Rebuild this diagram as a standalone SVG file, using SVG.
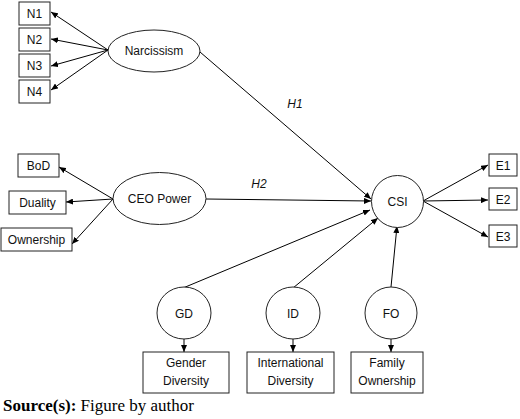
<svg xmlns="http://www.w3.org/2000/svg" width="520" height="419" viewBox="0 0 520 419">
<defs>
<marker id="arr" markerUnits="userSpaceOnUse" markerWidth="8" markerHeight="6" refX="7" refY="3" orient="auto">
<path d="M0,0 L7,3 L0,6 z" fill="#000"/>
</marker>
<style>
.box{fill:#fff;stroke:#222;stroke-width:1}
.el{fill:#fff;stroke:#222;stroke-width:1}
.t{font-family:"Liberation Sans",Arial,sans-serif;font-size:12px;fill:#111;text-anchor:middle}
.h{font-family:"Liberation Sans",Arial,sans-serif;font-size:12px;font-style:italic;fill:#111;text-anchor:middle}
.c{stroke:#000;stroke-width:1;fill:none;marker-end:url(#arr)}
</style>
</defs>
<rect width="520" height="419" fill="#fff"/>
<g id="connectors">
<line class="c" x1="108" y1="50" x2="51" y2="12"/>
<line class="c" x1="108" y1="50" x2="51" y2="39"/>
<line class="c" x1="108" y1="50" x2="51" y2="66"/>
<line class="c" x1="108" y1="50" x2="51" y2="90"/>
<line class="c" x1="113" y1="199" x2="59" y2="167"/>
<line class="c" x1="113" y1="199" x2="66" y2="202"/>
<line class="c" x1="113" y1="199" x2="72" y2="244"/>
<line class="c" x1="200" y1="52" x2="371" y2="199"/>
<line class="c" x1="206" y1="199" x2="371" y2="201"/>
<line class="c" x1="183" y1="288" x2="370" y2="210"/>
<line class="c" x1="293" y1="288" x2="378" y2="218"/>
<line class="c" x1="391" y1="287" x2="397" y2="226"/>
<line class="c" x1="423" y1="201" x2="488" y2="165"/>
<line class="c" x1="423" y1="201" x2="488" y2="200"/>
<line class="c" x1="423" y1="201" x2="488" y2="237"/>
<line class="c" x1="184" y1="339" x2="184" y2="352"/>
<line class="c" x1="293" y1="339" x2="293" y2="352"/>
<line class="c" x1="391" y1="339" x2="391" y2="352"/>
</g>
<text class="h" x="295" y="108">H1</text>
<text class="h" x="259" y="188">H2</text>
<g id="N1"><rect class="box" x="19" y="2" width="31" height="23"/><text class="t" x="34.5" y="18">N1</text></g>
<g id="N2"><rect class="box" x="19" y="28" width="31" height="23"/><text class="t" x="34.5" y="44">N2</text></g>
<g id="N3"><rect class="box" x="19" y="54" width="31" height="23"/><text class="t" x="34.5" y="70">N3</text></g>
<g id="N4"><rect class="box" x="19" y="80" width="31" height="23"/><text class="t" x="34.5" y="96">N4</text></g>
<g id="Narcissism"><ellipse class="el" cx="154" cy="51" rx="46" ry="21"/><text class="t" x="154" y="55">Narcissism</text></g>
<g id="BoD"><rect class="box" x="18" y="154" width="41" height="23"/><text class="t" x="38.5" y="170">BoD</text></g>
<g id="Duality"><rect class="box" x="9" y="191" width="57" height="23"/><text class="t" x="37.5" y="207">Duality</text></g>
<g id="Ownership"><rect class="box" x="1" y="228" width="71" height="23"/><text class="t" x="36.5" y="244">Ownership</text></g>
<g id="CEOPower"><ellipse class="el" cx="159.5" cy="198.5" rx="46.5" ry="26"/><text class="t" x="159.5" y="203">CEO Power</text></g>
<g id="CSI"><ellipse class="el" cx="397.5" cy="201.5" rx="26" ry="26"/><text class="t" x="397.5" y="206">CSI</text></g>
<g id="E1"><rect class="box" x="489" y="154" width="28" height="22"/><text class="t" x="503" y="170">E1</text></g>
<g id="E2"><rect class="box" x="489" y="188" width="28" height="22"/><text class="t" x="503" y="204">E2</text></g>
<g id="E3"><rect class="box" x="489" y="225" width="28" height="22"/><text class="t" x="503" y="241">E3</text></g>
<g id="GD"><ellipse class="el" cx="184" cy="313" rx="27" ry="26"/><text class="t" x="184" y="318">GD</text></g>
<g id="ID"><ellipse class="el" cx="293" cy="313" rx="27" ry="26"/><text class="t" x="293" y="318">ID</text></g>
<g id="FO"><ellipse class="el" cx="391" cy="313" rx="26" ry="26"/><text class="t" x="391" y="318">FO</text></g>
<g id="GenderDiversity"><rect class="box" x="143" y="352" width="86" height="41"/><text class="t" x="186" y="367">Gender</text><text class="t" x="186" y="385">Diversity</text></g>
<g id="InternationalDiversity"><rect class="box" x="247" y="352" width="87" height="41"/><text class="t" x="290.5" y="367">International</text><text class="t" x="290.5" y="385">Diversity</text></g>
<g id="FamilyOwnership"><rect class="box" x="351" y="352" width="72" height="41"/><text class="t" x="387" y="367">Family</text><text class="t" x="387" y="385">Ownership</text></g>
<text x="3" y="411" font-family="'Liberation Serif','Times New Roman',serif" font-size="17" fill="#000"><tspan font-weight="bold">Source(s):</tspan> Figure by author</text>
</svg>
